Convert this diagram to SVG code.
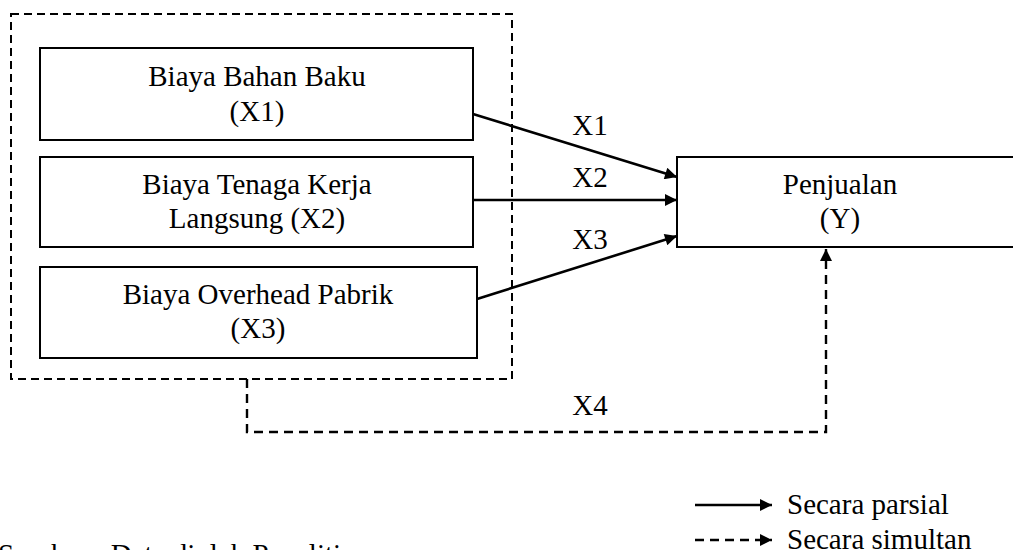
<svg xmlns="http://www.w3.org/2000/svg" width="1013" height="550" viewBox="0 0 1013 550">
<defs>
<style>
text{font-family:"Liberation Serif","Times New Roman",serif;font-size:29px;fill:#000}
.c{text-anchor:middle}
.box{fill:#fff;stroke:#000;stroke-width:2}
.dash{fill:none;stroke:#000;stroke-width:2;stroke-dasharray:8 5}
.conn{fill:none;stroke:#000;stroke-width:2.6}
.dconn{fill:none;stroke:#000;stroke-width:2.4;stroke-dasharray:9 6}
</style>
<marker id="ah" viewBox="0 0 10 10" refX="10" refY="5" markerWidth="15" markerHeight="12" markerUnits="userSpaceOnUse" orient="auto">
<path d="M0,0 L10,5 L0,10 Z" fill="#000"/>
</marker>
</defs>
<rect width="1013" height="550" fill="#fff"/>
<g id="group-x">
<rect class="dash" x="11" y="14" width="501" height="365"/>
</g>
<g id="node-x1">
<rect class="box" x="40" y="48" width="433" height="92"/>
<text class="c" x="257" y="86">Biaya Bahan Baku</text>
<text class="c" x="257" y="121">(X1)</text>
</g>
<g id="node-x2">
<rect class="box" x="40" y="157" width="433" height="90"/>
<text class="c" x="257" y="194">Biaya Tenaga Kerja</text>
<text class="c" x="257" y="228">Langsung (X2)</text>
</g>
<g id="node-x3">
<rect class="box" x="40" y="267" width="437" height="91"/>
<text class="c" x="258" y="304">Biaya Overhead Pabrik</text>
<text class="c" x="258" y="338">(X3)</text>
</g>
<g id="node-y">
<rect class="box" x="677" y="157" width="350" height="90"/>
<text class="c" x="840" y="194">Penjualan</text>
<text class="c" x="840" y="228">(Y)</text>
</g>
<g id="connectors">
<line class="conn" x1="473" y1="114" x2="677" y2="177" marker-end="url(#ah)"/>
<line class="conn" x1="473" y1="200" x2="677" y2="200" marker-end="url(#ah)"/>
<line class="conn" x1="477" y1="299" x2="677" y2="236" marker-end="url(#ah)"/>
<polyline class="dconn" points="247,379 247,432 826,432 826,249" marker-end="url(#ah)"/>
<text class="c" x="590" y="135">X1</text>
<text class="c" x="590" y="187">X2</text>
<text class="c" x="590" y="249">X3</text>
<text class="c" x="590" y="415">X4</text>
</g>
<g id="legend">
<line class="conn" x1="695" y1="505" x2="772" y2="505" marker-end="url(#ah)"/>
<text x="787" y="514">Secara parsial</text>
<line class="dconn" x1="695" y1="540" x2="772" y2="540" stroke-dasharray="9 6" marker-end="url(#ah)"/>
<text x="787" y="549">Secara simultan</text>
</g>
<text x="-2" y="564">Sumber : Data diolah Peneliti</text>
</svg>
